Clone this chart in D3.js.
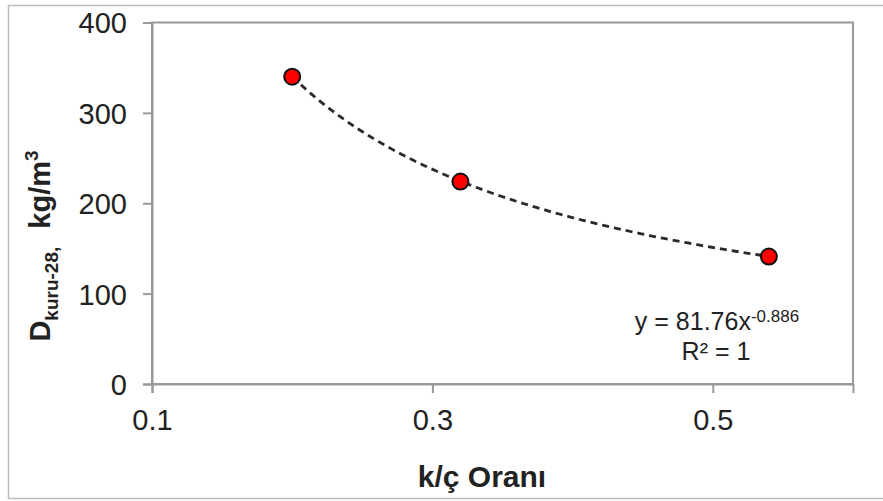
<!DOCTYPE html>
<html><head><meta charset="utf-8">
<script src="https://cdn.jsdelivr.net/npm/d3@7"></script>
<style>body{margin:0;background:#fff}svg{display:block}</style>
</head><body><svg id="c" width="883" height="501"></svg>
<script>
const ratios = [0.2, 0.32, 0.54];
const density = [340, 224, 141];
const xTicks = [0.1, 0.3, 0.5];
const yTicks = [0, 100, 200, 300, 400];
const fitCoef = [81.76];
const fitExp = [-0.886];

const svg = d3.select("#c");
const m = {l:152, t:22.5, r:853, b:384};
const x = d3.scaleLinear().domain([0.1, 0.6]).range([m.l, m.r]);
const y = d3.scaleLinear().domain([0, 400]).range([m.b, m.t]);
const font = "Liberation Sans, Arial, sans-serif";

// outer border
svg.append("rect").attr("x", 8.5).attr("y", 5.5).attr("width", 890).attr("height", 493)
  .attr("fill", "none").attr("stroke", "#bbb").attr("stroke-width", 1.5);

// plot frame
svg.append("rect").attr("x", m.l).attr("y", m.t).attr("width", m.r - m.l).attr("height", m.b - m.t)
  .attr("fill", "none").attr("stroke", "#999").attr("stroke-width", 2);

const xa = svg.append("g").attr("transform", `translate(0,${m.b})`)
  .call(d3.axisBottom(x).tickValues(xTicks).tickFormat(d3.format(".1f")).tickSize(9).tickPadding(16));
const ya = svg.append("g").attr("transform", `translate(${m.l},0)`)
  .call(d3.axisLeft(y).tickValues(yTicks).tickSize(9).tickPadding(16));
[xa, ya].forEach(a => {
  a.attr("font-size", null).attr("font-family", null);
  a.select(".domain").attr("stroke", "#999").attr("stroke-width", 2);
  a.selectAll(".tick line").attr("stroke", "#999").attr("stroke-width", 2);
  a.selectAll("text").style("font-family", font).style("font-size", "29px").attr("fill", "#222");
});
ya.selectAll("text").attr("dy", "0.36em");

// trendline
const [lo, hi] = d3.extent(ratios);
const tx = d3.range(0, 101).map(i => lo + (hi - lo) * i / 100);
svg.append("path").datum(tx)
  .attr("d", d3.line().x(d => x(d)).y(d => y(fitCoef[0] * Math.pow(d, fitExp[0]))))
  .attr("fill", "none").attr("stroke", "#2a2a2a").attr("stroke-width", 2.8).attr("stroke-dasharray", "7,5");

// points
svg.selectAll("circle.p").data(ratios).join("circle").attr("class", "p")
  .attr("cx", d => x(d)).attr("cy", (d, i) => y(density[i])).attr("r", 8)
  .attr("fill", "#ff0000").attr("stroke", "#111").attr("stroke-width", 2);

// equation
const eq = svg.append("text").attr("x", 717).attr("y", 330).attr("text-anchor", "middle")
  .style("font-family", font).style("font-size", "25px").attr("fill", "#222");
eq.append("tspan").text(`y = ${fitCoef[0]}x`);
eq.append("tspan").attr("dy", -8).style("font-size", "17px").text(fitExp[0]);
svg.append("text").attr("x", 716).attr("y", 360).attr("text-anchor", "middle")
  .style("font-family", font).style("font-size", "25px").attr("fill", "#222").text("R² = 1");

// x label
svg.append("text").attr("x", 482).attr("y", 487).attr("text-anchor", "middle")
  .style("font-family", font).style("font-size", "30px").attr("font-weight", "bold").attr("fill", "#222")
  .text("k/ç Oranı");

// y label
const yl = svg.append("text").attr("transform", "translate(50,246) rotate(-90)").attr("text-anchor", "middle")
  .style("font-family", font).style("font-size", "29px").attr("font-weight", "bold").attr("fill", "#222");
yl.append("tspan").text("D");
yl.append("tspan").attr("dy", 8).style("font-size", "19px").text("kuru-28,");
yl.append("tspan").attr("dy", -8).attr("dx", 10).text(" kg/m");
yl.append("tspan").attr("dy", -12).style("font-size", "19px").text("3");
</script></body></html>
